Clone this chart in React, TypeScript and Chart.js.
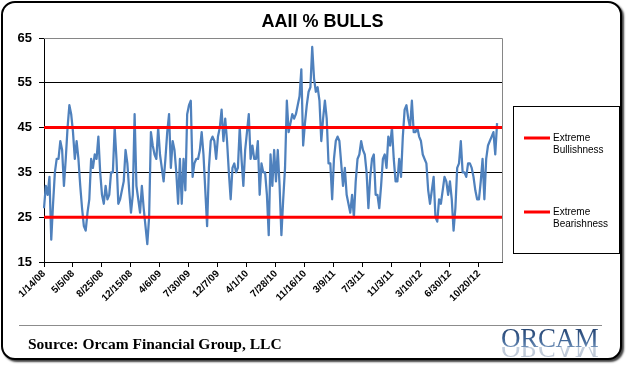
import React, { useEffect, useRef } from 'react';
import { Chart, registerables } from 'chart.js';

Chart.register(...registerables);

const TITLE = 'AAII % BULLS';
const SOURCE = 'Source: Orcam Financial Group, LLC';
const LOGO = 'ORCAM';

const TICK_LABELS = [
  '1/14/08', '5/5/08', '8/25/08', '12/15/08', '4/6/09', '7/30/09', '12/7/09', '4/1/10',
  '7/28/10', '11/16/10', '3/9/11', '7/3/11', '11/3/11', '3/10/12', '6/30/12', '10/20/12',
];
const LABEL_EVERY = 16;
const CATEGORY_COUNT = 254;

// weekly AAII % bullish readings
const BULLS = [
  27, 32, 30, 34, 20, 28, 35, 38, 38, 42, 40, 32, 38, 45, 50, 48, 44, 38, 42, 38,
  32, 27, 23, 22, 26, 29, 38, 36, 39, 38, 43, 35, 30, 28, 32, 29, 30, 35, 35, 45,
  38, 28, 29, 31, 33, 40, 37, 31, 26, 30, 48, 32, 29, 26, 32, 27, 23, 19, 25, 44,
  41, 39, 38, 45, 39, 36, 33, 38, 44, 48, 36, 42, 40, 35, 28, 38, 28, 38, 31, 48,
  50, 51, 34, 37, 38, 38, 40, 44, 39, 31, 23, 36, 42, 43, 42, 38, 43, 45, 49, 42,
  47, 42, 35, 29, 36, 37, 35, 36, 45, 38, 32, 40, 44, 48, 38, 41, 38, 38, 42, 30,
  37, 35, 35, 30, 21, 39, 32, 40, 33, 40, 32, 21, 29, 36, 51, 44, 46, 48, 47, 48,
  50, 52, 58, 41, 46, 50, 53, 54, 63, 56, 53, 54, 51, 42, 47, 51, 47, 37, 37, 29,
  38, 42, 43, 42, 37, 32, 36, 30, 28, 26, 30, 25, 33, 38, 39, 42, 40, 39, 35, 27,
  34, 38, 39, 30, 30, 27, 32, 38, 39, 36, 43, 41, 45, 38, 33, 33, 38, 34, 43, 49,
  50, 47, 45, 51, 44, 44, 45, 43, 42, 39, 38, 37, 31, 28, 31, 34, 25, 24, 29, 28,
  31, 34, 33, 30, 33, 29, 22, 27, 36, 37, 42, 35, 35, 34, 37, 37, 36, 34, 31, 29,
  29, 33, 38, 29, 38, 41, 42, 43, 44, 39, 46,
];

const EXTREME_BULLISHNESS = 45;
const EXTREME_BEARISHNESS = 25;
const Y_MIN = 15;
const Y_MAX = 65;
const Y_STEP = 10;

const CATEGORIES = Array.from({ length: CATEGORY_COUNT }, (_, i) =>
  i % LABEL_EVERY === 0 && TICK_LABELS[i / LABEL_EVERY] ? TICK_LABELS[i / LABEL_EVERY] : ''
);

const SANS = '"Liberation Sans", Arial, sans-serif';
const SERIF = '"Liberation Serif", "Times New Roman", serif';

const decorPlugin = {
  id: 'decor',
  afterDraw(chart: any) {
    const { ctx, chartArea: a } = chart;
    ctx.save();
    // plot-area border (top & right) in grey
    ctx.strokeStyle = '#868686';
    ctx.lineWidth = 1;
    ctx.beginPath();
    ctx.moveTo(a.left, Math.round(a.top) + 0.5);
    ctx.lineTo(Math.round(a.right) - 0.5, Math.round(a.top) + 0.5);
    ctx.lineTo(Math.round(a.right) - 0.5, a.bottom);
    ctx.stroke();

    // title
    ctx.fillStyle = '#000';
    ctx.font = `bold 18px ${SANS}`;
    ctx.textAlign = 'center';
    ctx.textBaseline = 'middle';
    ctx.fillText(TITLE, 322.5, 22);

    // legend box
    ctx.strokeStyle = '#000';
    ctx.lineWidth = 1;
    ctx.strokeRect(513.5, 106.5, 106, 147);
    const items = chart.data.datasets.filter((d: any) => d.showInLegend);
    const rows = [138, 212];
    items.forEach((d: any, k: number) => {
      const y = rows[k];
      ctx.strokeStyle = d.borderColor;
      ctx.lineWidth = 3;
      ctx.beginPath();
      ctx.moveTo(524, y);
      ctx.lineTo(550, y);
      ctx.stroke();
      ctx.fillStyle = '#000';
      ctx.font = `10px ${SANS}`;
      ctx.textAlign = 'left';
      ctx.textBaseline = 'middle';
      const words = String(d.label).split(' ');
      words.forEach((w: string, j: number) => ctx.fillText(w, 553, y + j * 12.5));
    });
    ctx.restore();
  },
};

export default function App() {
  const ref = useRef<HTMLCanvasElement>(null);

  useEffect(() => {
    const canvas = ref.current;
    if (!canvas) return;
    const chart = new Chart(canvas, {
      type: 'line',
      data: {
        labels: CATEGORIES,
        datasets: [
          {
            label: 'Extreme Bullishness',
            data: CATEGORIES.map(() => EXTREME_BULLISHNESS),
            borderColor: '#ff0000',
            borderWidth: 3,
            pointRadius: 0,
            showInLegend: true,
          } as any,
          {
            label: 'Extreme Bearishness',
            data: CATEGORIES.map(() => EXTREME_BEARISHNESS),
            borderColor: '#ff0000',
            borderWidth: 3,
            pointRadius: 0,
            showInLegend: true,
          } as any,
          {
            label: 'AAII % Bulls',
            data: BULLS,
            borderColor: '#4f81bd',
            borderWidth: 2.25,
            pointRadius: 0,
            tension: 0,
            borderJoinStyle: 'round',
          } as any,
        ],
      },
      options: {
        animation: false,
        responsive: false,
        devicePixelRatio: 1,
        layout: { padding: { top: 38, right: 124.5, left: 0, bottom: 0 } },
        plugins: {
          legend: { display: false },
          title: { display: false },
          tooltip: { enabled: false },
        },
        scales: {
          x: {
            type: 'category',
            offset: false,
            afterFit: (s: any) => {
              s.height = 104;
            },
            grid: {
              drawOnChartArea: false,
              drawTicks: true,
              tickLength: 5,
              offset: false,
              tickColor: (c: any) => (c.index % LABEL_EVERY === 0 ? '#000' : 'rgba(0,0,0,0)'),
            },
            border: { display: true, color: '#000', width: 1 },
            ticks: {
              autoSkip: false,
              maxRotation: 45,
              minRotation: 45,
              padding: 1,
              color: '#000',
              font: { family: SANS, size: 10, weight: 'bold' },
            },
          },
          y: {
            min: Y_MIN,
            max: Y_MAX,
            afterFit: (s: any) => {
              s.width = 44;
            },
            grid: {
              color: (c: any) => (c.tick && c.tick.value === Y_MAX ? 'rgba(0,0,0,0)' : '#000'),
              lineWidth: 1,
              tickLength: 5,
              tickColor: '#000',
            },
            border: { display: true, color: '#000', width: 1 },
            ticks: {
              stepSize: Y_STEP,
              padding: 7,
              color: '#000',
              font: { family: SANS, size: 13, weight: 'bold' },
            },
          },
        },
      },
      plugins: [decorPlugin],
    });
    return () => chart.destroy();
  }, []);

  const logoText: React.CSSProperties = {
    font: `27px ${SERIF}`,
    lineHeight: '27px',
    letterSpacing: '-0.3px',
    whiteSpace: 'nowrap',
    background: 'linear-gradient(#1e3a66 0%, #3f6596 55%, #8aa6c8 100%)',
    WebkitBackgroundClip: 'text',
    backgroundClip: 'text',
    color: 'transparent',
  };

  return (
    <div style={{ position: 'fixed', left: 0, top: 0, width: 627, height: 366, background: '#fff', overflow: 'hidden' }}>
      <div
        style={{
          position: 'absolute',
          left: 1,
          top: 1,
          width: 621,
          height: 359,
          boxSizing: 'border-box',
          border: '2px solid #000',
          borderRadius: 14,
          boxShadow: '2px 2px 2px rgba(0,0,0,0.75)',
          background: '#fff',
        }}
      />
      <canvas ref={ref} width={627} height={366} style={{ position: 'absolute', left: 0, top: 0, width: 627, height: 366 }} />
      <div style={{ position: 'absolute', left: 19, top: 325, width: 583, height: 1, background: '#8c8c8c' }} />
      <div
        style={{
          position: 'absolute',
          left: 28,
          top: 334,
          font: `bold 15.5px ${SERIF}`,
          lineHeight: '20px',
          color: '#000',
          whiteSpace: 'nowrap',
        }}
      >
        {SOURCE}
      </div>
      <div style={{ position: 'absolute', left: 501, top: 325 }}>
        <div style={logoText}>{LOGO}</div>
      </div>
      <div
        style={{
          position: 'absolute',
          left: 501,
          top: 347,
          height: 13,
          overflow: 'hidden',
          opacity: 0.3,
        }}
      >
        <div style={{ ...logoText, transform: 'scaleY(-1)', transformOrigin: '50% 7px' }}>{LOGO}</div>
      </div>
    </div>
  );
}
